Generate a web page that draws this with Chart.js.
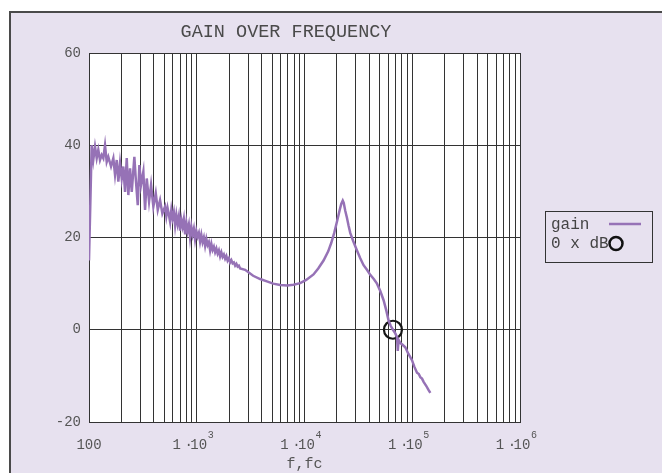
<!DOCTYPE html>
<html>
<head>
<meta charset="utf-8">
<script src="https://cdn.jsdelivr.net/npm/chart.js@4.4.0/dist/chart.umd.min.js"></script>
<style>
  html, body { margin: 0; padding: 0; background: #fff; }
  #wrap { width: 662px; height: 473px; }
</style>
</head>
<body>
<div id="wrap"><canvas id="gainChart" width="662" height="473"></canvas></div>
<script>
// measured gain curve (Hz, dB)
const freqHz = [
  100, 105.9, 109.6, 113.7, 117.9, 122.0, 126.5, 131.2, 135.8, 140.8,
  146.0, 151.1, 160.1, 168.2, 174.4, 180.9, 187.2, 194.1, 201.3, 208.3,
  216.0, 224.0, 231.8, 240.4, 249.3, 263.6, 271.6, 283.5, 293.4, 304.1,
  319.5, 331.3, 343.6, 360.9, 376.7, 395.6, 416.5, 434.7, 456.6, 479.6,
  508, 522, 536, 551, 566, 581, 597, 613, 630, 647,
  664, 682, 700, 719, 739, 759, 780, 801, 822, 845,
  867, 891, 915, 940, 965, 991, 1018, 1046, 1074, 1103,
  1133, 1164, 1196, 1228, 1261, 1295, 1331, 1367, 1404, 1442,
  1481, 1521, 1562, 1604, 1648, 1692, 1738, 1785, 1834, 1883,
  1934, 1987, 2041, 2096, 2153, 2211, 2271, 2332, 2396, 2461,
  2527, 2812, 3337, 3877, 4475, 5119, 5947, 6909, 7904, 9120,
  10370, 12120, 13410, 15020, 16600, 17700, 18880, 20130, 21240, 21930,
  22640, 23130, 23890, 24770, 25630, 26580, 28350, 30690, 32920, 35330,
  37990, 40760, 43930, 47070, 50500, 54190, 57410, 60310, 63210, 66250,
  69590, 72170, 73420, 74690, 77450, 80830, 86170, 91910, 99470, 104500,
  110700, 115100, 118800, 123200, 127500, 135100, 141000, 147200
];
const gainDb = [
  15.0, 40.0, 36.8, 39.7, 37.2, 39.0, 36.8, 37.9, 37.2, 40.0,
  36.4, 37.5, 35.4, 37.2, 33.6, 36.8, 32.1, 36.1, 32.8, 35.4,
  29.9, 37.2, 29.2, 35.0, 29.9, 37.5, 32.8, 27.0, 35.7, 31.4,
  34.3, 26.0, 32.8, 27.8, 31.4, 26.7, 29.6, 26.0, 28.1, 25.2,
  26.7, 24.6, 26.4, 25.0, 23.4, 26.0, 24.2, 25.5, 22.6, 24.9,
  23.0, 24.6, 21.5, 23.9, 22.4, 24.0, 20.7, 23.2, 21.4, 22.8,
  20.0, 22.3, 20.6, 21.9, 19.6, 21.4, 20.2, 21.0, 19.1, 20.6,
  19.0, 20.0, 18.2, 19.7, 18.4, 19.0, 17.2, 18.6, 17.3, 18.0,
  16.8, 17.6, 16.5, 17.2, 15.9, 16.8, 15.8, 16.3, 15.4, 16.0,
  15.0, 15.5, 14.6, 15.1, 14.4, 14.6, 13.9, 14.3, 13.7, 13.9,
  13.3, 13.0, 11.7, 11.0, 10.5, 10.0, 9.7, 9.6, 9.75, 10.1,
  10.8, 12.0, 13.3, 15.0, 17.0, 18.8, 21.0, 23.7, 26.0, 27.3,
  28.0, 27.5, 25.8, 24.3, 22.6, 21.0, 19.2, 17.2, 15.5, 14.0,
  13.0, 11.9, 11.0, 10.0, 8.4, 6.4, 4.2, 2.0, 0.8, 0.0,
  -0.8, -1.6, -4.6, -2.2, -2.9, -3.2, -3.8, -5.2, -6.6, -8.0,
  -9.3, -9.6, -10.3, -10.6, -11.3, -12.2, -13.0, -13.7
];
// 0 dB crossing marker
const zeroFreq = [66200];
const zeroGain = [0];

const yTicks = [-20, 0, 20, 40, 60];
const xTickValues = [100, 1e3, 1e4, 1e5, 1e6];
const xTickBase = ['100', '1', '1', '1', '1'];
const xTickExp = ['', '3', '4', '5', '6'];
const legendLabels = ['gain', '0 x dB'];
const chartTitle = 'GAIN OVER FREQUENCY';

const MONO = '"Liberation Mono", monospace';
const PURPLE = '#9672b6';

const framePlugin = {
  id: 'frame',
  beforeDraw(chart) {
    const ctx = chart.ctx, a = chart.chartArea;
    ctx.save();
    ctx.fillStyle = '#ffffff';
    ctx.fillRect(0, 0, chart.width, chart.height);
    ctx.fillStyle = '#e7e1ef';
    ctx.fillRect(10, 12, chart.width - 10, chart.height - 12);
    ctx.strokeStyle = '#4a4a4a';
    ctx.lineWidth = 2;
    ctx.beginPath();
    ctx.moveTo(10, chart.height);
    ctx.lineTo(10, 12);
    ctx.lineTo(chart.width, 12);
    ctx.stroke();
    ctx.fillStyle = '#ffffff';
    ctx.fillRect(a.left, a.top, a.right - a.left, a.bottom - a.top);
    ctx.restore();
  },
  afterDraw(chart) {
    const ctx = chart.ctx, xs = chart.scales.x;
    ctx.save();
    // title
    ctx.fillStyle = '#4a4a4a';
    ctx.font = '18.5px ' + MONO;
    ctx.textAlign = 'center';
    ctx.textBaseline = 'middle';
    ctx.fillText(chartTitle, 286, 32);

    // x tick labels with exponent
    ctx.fillStyle = '#555';
    xTickValues.forEach((v, i) => {
      const px = xs.getPixelForValue(v);
      ctx.font = '14px ' + MONO;
      ctx.textAlign = 'center';
      if (!xTickExp[i]) {
        ctx.fillText(xTickBase[i], px, 445);
        return;
      }
      ctx.fillText(xTickBase[i], px - 20, 445);
      ctx.fillText('\u00b7', px - 8, 445);
      ctx.fillText('10', px + 2, 445);
      ctx.font = '10px ' + MONO;
      ctx.fillText(xTickExp[i], px + 14, 435);
    });

    // legend
    ctx.strokeStyle = '#333';
    ctx.lineWidth = 1;
    ctx.strokeRect(545.5, 211.5, 107, 51);
    ctx.font = '16px ' + MONO;
    ctx.fillStyle = '#444';
    ctx.textAlign = 'left';
    ctx.fillText(legendLabels[0], 551, 225);
    ctx.fillText(legendLabels[1], 551, 244);
    ctx.strokeStyle = PURPLE;
    ctx.lineWidth = 2.5;
    ctx.beginPath();
    ctx.moveTo(609, 224);
    ctx.lineTo(641, 224);
    ctx.stroke();
    ctx.strokeStyle = '#111';
    ctx.lineWidth = 2.5;
    ctx.beginPath();
    ctx.arc(616, 243.5, 6.5, 0, Math.PI * 2);
    ctx.stroke();
    ctx.restore();
  }
};

const ctx = document.getElementById('gainChart');
new Chart(ctx, {
  type: 'scatter',
  data: {
    datasets: [{
      label: legendLabels[0],
      data: freqHz.map((f, i) => ({ x: f, y: gainDb[i] })),
      showLine: true,
      borderColor: PURPLE,
      borderWidth: 2.5,
      pointRadius: 0,
      tension: 0
    }, {
      label: legendLabels[1],
      data: zeroFreq.map((f, i) => ({ x: f, y: zeroGain[i] })),
      showLine: false,
      pointStyle: 'circle',
      pointRadius: 9,
      borderWidth: 2.2,
      borderColor: '#151515',
      backgroundColor: 'rgba(0,0,0,0)'
    }]
  },
  options: {
    responsive: false,
    animation: false,
    events: [],
    layout: { padding: { top: 53, right: 142, left: 0, bottom: 0 } },
    plugins: {
      legend: { display: false },
      tooltip: { enabled: false }
    },
    scales: {
      x: {
        type: 'logarithmic',
        min: 100,
        max: 1e6,
        afterBuildTicks(scale) {
          const t = [];
          for (let e = 2; e < 6; e++) {
            for (let m = 1; m < 10; m++) t.push({ value: m * Math.pow(10, e) });
          }
          t.push({ value: 1e6 });
          scale.ticks = t;
        },
        afterFit(scale) { scale.height = 51; },
        grid: { color: '#333', lineWidth: 1, drawTicks: false },
        border: { color: '#333', width: 1 },
        ticks: { display: false },
        title: {
          display: true,
          text: 'f,fc',
          color: '#555',
          font: { family: MONO, size: 15 },
          padding: { top: 0, bottom: 0 }
        }
      },
      y: {
        min: -20,
        max: 60,
        afterBuildTicks(scale) { scale.ticks = yTicks.map(v => ({ value: v })); },
        afterFit(scale) { scale.width = 89; },
        grid: { color: '#333', lineWidth: 1, drawTicks: false },
        border: { color: '#333', width: 1 },
        ticks: { color: '#555', font: { family: MONO, size: 14 }, padding: 8 }
      }
    }
  },
  plugins: [framePlugin]
});
</script>
</body>
</html>
